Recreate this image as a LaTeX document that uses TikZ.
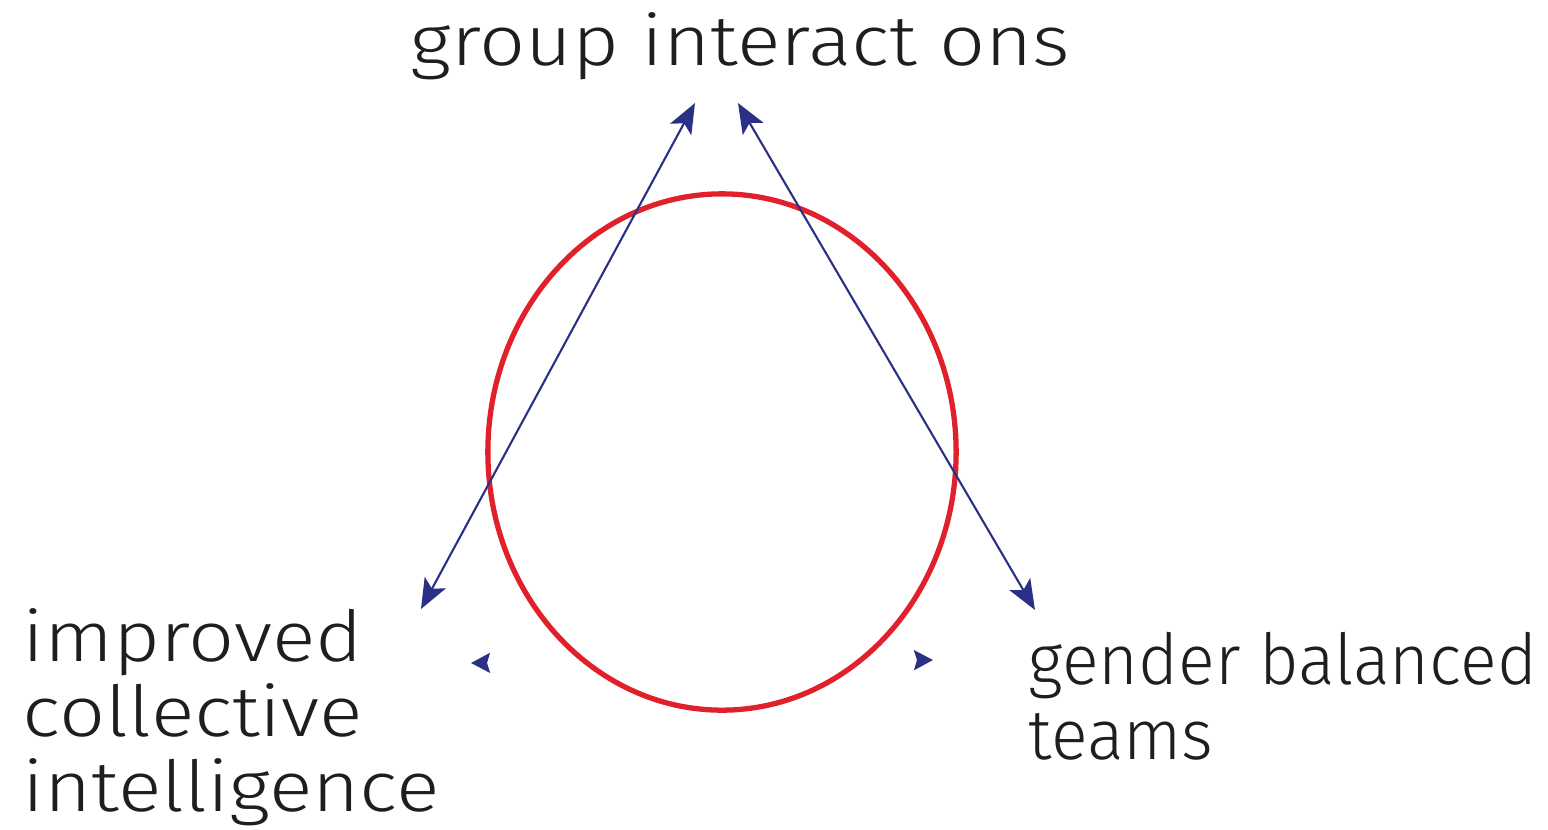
\documentclass[tikz,border=0pt]{standalone}
\usepackage{fontspec}
\setmainfont{Fira Sans Light}
\newfontfamily\widefont[FakeStretch=1.15]{Fira Sans Light}
\newfontfamily\tightfont[FakeStretch=0.97]{Fira Sans Light}
\usetikzlibrary{arrows.meta,shapes.geometric}
\definecolor{arrowblue}{HTML}{2B3087}
\definecolor{loopred}{HTML}{E0202A}
\definecolor{textgrey}{HTML}{1E1E1E}

\begin{document}
\begin{tikzpicture}[x=0.01cm,y=-0.01cm,
	blocktext/.style={font=\fontsize{20}{21.3}\selectfont\widefont, text=textgrey, inner sep=0pt, anchor=base west, align=left},
	link/.style={draw=arrowblue, line width=0.6pt, {Stealth[length=0.3cm,width=0.24cm,inset=0.07cm]}-{Stealth[length=0.3cm,width=0.24cm,inset=0.07cm]}},
	hidden/.style={draw=white, line width=0.6pt, {Stealth[length=0.19cm,width=0.2cm,inset=0.03cm,color=arrowblue]}-{Stealth[length=0.19cm,width=0.2cm,inset=0.03cm,color=arrowblue]}}]
	\useasboundingbox (0,0) rectangle (1548,829);

	% labels (anchored at the last baseline)
	\node[blocktext] (inter) at (410,65) {group interact ons};
	\node[blocktext] (intel) at (22,811) {improved\\collective\\intelligence};
	\node[blocktext, font=\fontsize{20}{21.3}\selectfont\tightfont] (gender) at (1028,759) {gender balanced\\teams};

	% arrow ends
	\coordinate (inter-l) at (695,103);
	\coordinate (inter-r) at (738,103);
	\coordinate (intel-tip) at (421,609);
	\coordinate (gender-tip) at (1035,610);
	\coordinate (low-l) at (471,663);
	\coordinate (low-r) at (933,660);

	\draw[hidden] (low-l) -- (low-r);
	\node[draw=loopred, line width=1.5pt, ellipse, minimum width=4.68cm, minimum height=5.16cm, inner sep=0pt] (loop) at (722,452) {};

	\draw[link] (intel-tip) -- (inter-l);
	\draw[link] (inter-r) -- (gender-tip);
\end{tikzpicture}
\end{document}
